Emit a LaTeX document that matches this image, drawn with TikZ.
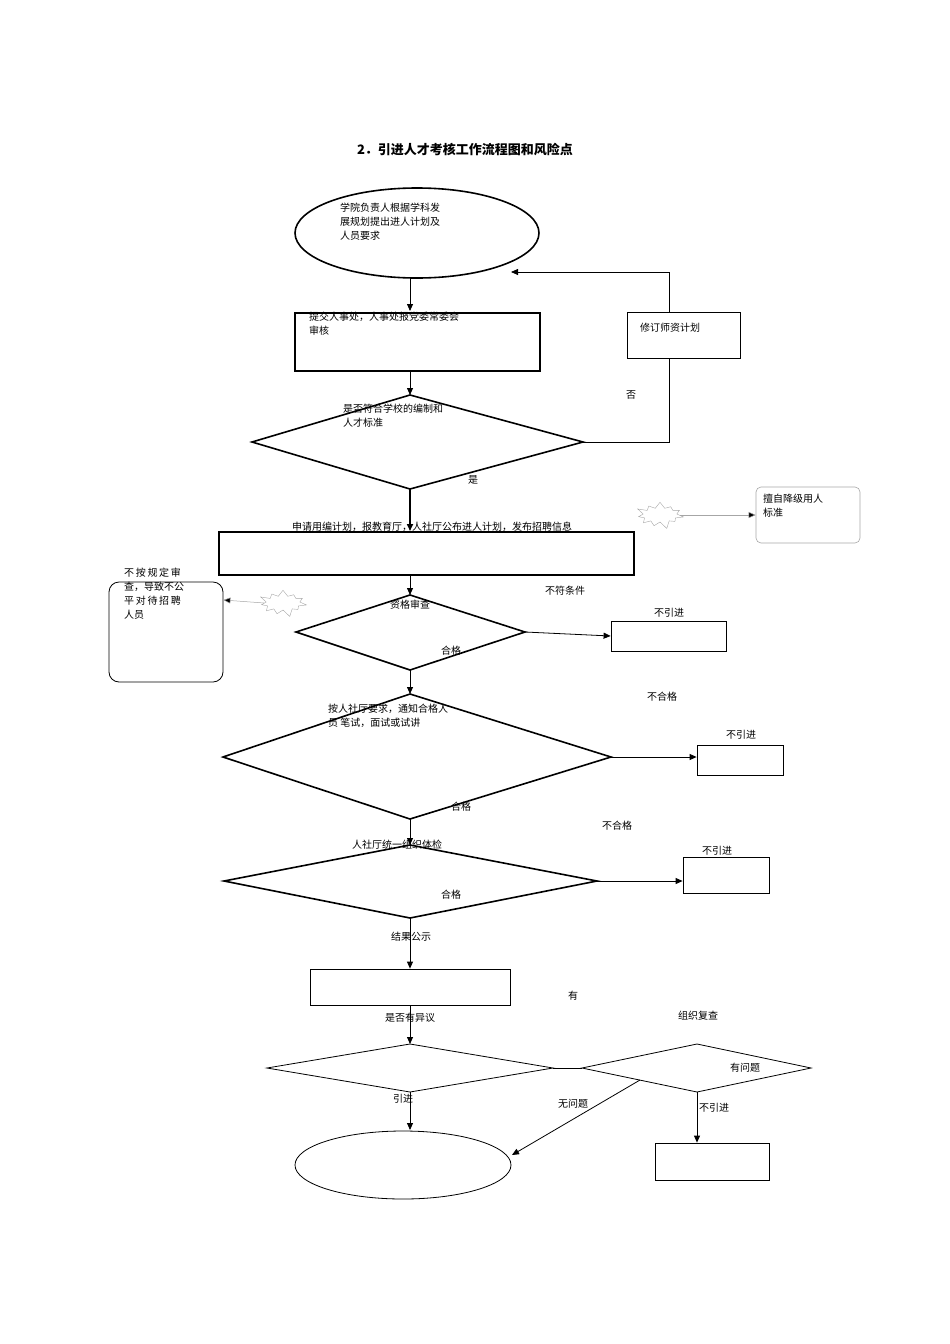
\documentclass[tikz,border=0pt]{standalone}
\usepackage{fontspec}
\setmainfont{Liberation Serif}
\newfontfamily\cjk{Noto Sans CJK SC}
\usetikzlibrary{shapes.geometric,shapes.symbols,arrows.meta}
\begin{document}
\begin{tikzpicture}[x=1pt,y=-1pt,
  every node/.style={font=\cjk\fontsize{10}{14}\selectfont,inner sep=0pt},
  lbl/.style={anchor=center},
  thk/.style={draw,line width=1.6pt},
  thn/.style={draw,line width=0.8pt},
  arr/.style={-{Triangle[length=7pt,width=6pt]},line width=0.8pt},
  dia/.style={diamond,aspect=2,minimum width=10pt},
  burst/.style={starburst,draw=gray!70,line width=0.4pt,starburst points=11,starburst point height=8pt,minimum width=50pt,minimum height=30pt}]
\useasboundingbox (0,0) rectangle (950,1344);
\node[font=\cjk\bfseries\fontsize{13}{16}\selectfont] (title) at (465,150) {2．引进人才考核工作流程图和风险点};
% top ellipse
\node[ellipse,thk,minimum width=244pt,minimum height=90pt] (e1) at (417,233) {};
\node[anchor=north west,align=left] at (340,203) {学院负责人根据学科发\\展规划提出进人计划及\\人员要求};
\coordinate (r1t) at (410,311);
\draw[arr] (410,278) -- (r1t);
\draw[thk] (295,313) rectangle (540,371);
\node[anchor=north west,align=left] at (309,312) {提交人事处，人事处报党委常委会\\审核};
\draw[arr] (410,371) -- (410,395);
\coordinate (d1l) at (252,442); \coordinate (d1t) at (410,395); \coordinate (d1r) at (583,442); \coordinate (d1b) at (410,489);
\draw[thk] (d1l) -- (d1t) -- (d1r) -- (d1b) -- cycle;
\node[anchor=north west,align=left] at (343,404) {是否符合学校的编制和\\人才标准};
\coordinate (fb1) at (669,442); \coordinate (fb2) at (669,272); \coordinate (fb3) at (511,272);
\draw[line width=0.8pt] (d1r) -- (fb1) -- (fb2);
\draw[arr] (fb2) -- (fb3);
\node[thn,fill=white,minimum width=113pt,minimum height=46pt] (rev) at (683.5,335) {};
\node[anchor=north west] at (640,323) {修订师资计划};
\node at (631,395) {否};
\node at (473,480) {是};
\draw[arr,line width=1.6pt] (d1b) -- (410,531);
\draw[thk] (219,532) rectangle (634,575);
\node at (432,527) {申请用编计划，报教育厅，人社厅公布进人计划，发布招聘信息};
\node[burst] (b1) at (660,515) {};
\node[draw=gray!70,rounded corners=5pt,line width=0.6pt,minimum width=104pt,minimum height=56pt] (risk1) at (808,515) {};
\node[anchor=north west,align=left] at (763,494) {擅自降级用人\\标准};
\draw[arr,draw=gray!70,line width=0.5pt,-{Triangle[length=7pt,width=6pt,fill=black]}] (b1.east) -- (risk1.west);
\draw[arr] (410,575) -- (410,595);
\coordinate (d2l) at (296,632); \coordinate (d2t) at (410,595); \coordinate (d2r) at (525,632); \coordinate (d2b) at (410,670);
\draw[thk] (d2l) -- (d2t) -- (d2r) -- (d2b) -- cycle;
\node at (410,605) {资格审查};
\node at (451,651) {合格};
\node[thn,minimum width=115pt,minimum height=30pt] (n1) at (668.5,636) {};
\draw[arr] (d2r) -- (n1.west);
\node at (669,613) {不引进};
\node at (565,591) {不符条件};
\node[burst] (b2) at (283,603) {};
\node[draw,rounded corners=10pt,line width=0.8pt,minimum width=114pt,minimum height=100pt] (risk2) at (166,632) {};
\node[anchor=north west,align=left] at (124,568) {不\,按\,规\,定\,审\\查，导致不公\\平\,对\,待\,招\,聘\\人员};
\draw[arr,draw=gray!70,line width=0.5pt,-{Triangle[length=7pt,width=6pt,fill=black]}] (b2.west) -- (risk2.east |- 0,600);
\draw[arr] (d2b) -- (410,694);
\coordinate (d3l) at (223,757); \coordinate (d3t) at (410,694); \coordinate (d3r) at (611,757); \coordinate (d3b) at (410,819);
\draw[thk] (d3l) -- (d3t) -- (d3r) -- (d3b) -- cycle;
\node[anchor=north west,align=left] at (328,704) {按人社厅要求，通知合格人\\员\ 笔试，面试或试讲};
\node at (461,807) {合格};
\node[thn,minimum width=86pt,minimum height=30pt] (n2) at (740,760) {};
\draw[arr] (d3r) -- (n2.west |- d3r);
\node at (741,735) {不引进};
\node at (662,697) {不合格};
\draw[arr] (d3b) -- (410,845);
\coordinate (d4l) at (224,881); \coordinate (d4t) at (410,845); \coordinate (d4r) at (597,881); \coordinate (d4b) at (410,918);
\draw[thk] (d4l) -- (d4t) -- (d4r) -- (d4b) -- cycle;
\node at (397,845) {人社厅统一组织体检};
\node at (451,895) {合格};
\node[thn,minimum width=86pt,minimum height=36pt] (n3) at (726,875) {};
\draw[arr] (d4r) -- (n3.west |- d4r);
\node at (717,851) {不引进};
\node at (617,826) {不合格};
\node at (411,937) {结果公示};
\node[thn,minimum width=200pt,minimum height=36pt] (pub) at (410,987) {};
\draw[arr] (d4b) -- (pub.north);
\node at (573,996) {有};
\node at (410,1018) {是否有异议};
\coordinate (d5l) at (267,1068); \coordinate (d5t) at (410,1044); \coordinate (d5r) at (553,1068); \coordinate (d5b) at (410,1092);
\draw[arr] (pub.south) -- (d5t);
\draw[thn] (d5l) -- (d5t) -- (d5r) -- (d5b) -- cycle;
\coordinate (d6l) at (582,1068); \coordinate (d6t) at (697,1044); \coordinate (d6r) at (811,1068); \coordinate (d6b) at (697,1092);
\draw[thn] (d6l) -- (d6t) -- (d6r) -- (d6b) -- cycle;
\draw[line width=0.8pt] (d5r) -- (d6l);
\node at (698,1016) {组织复查};
\node at (745,1068) {有问题};
\node[ellipse,thn,minimum width=216pt,minimum height=68pt] (e2) at (403,1165) {};
\node at (403,1099) {引进};
\draw[arr] (d5b) -- (410,1130);
\coordinate (q) at (640,1080);
\draw[arr] (q) -- (512,1155);
\node at (573,1104) {无问题};
\node[thn,minimum width=114pt,minimum height=37pt] (n4) at (712,1161.5) {};
\draw[arr] (d6b) -- (n4.north -| d6b);
\node at (714,1108) {不引进};
\end{tikzpicture}
\end{document}
